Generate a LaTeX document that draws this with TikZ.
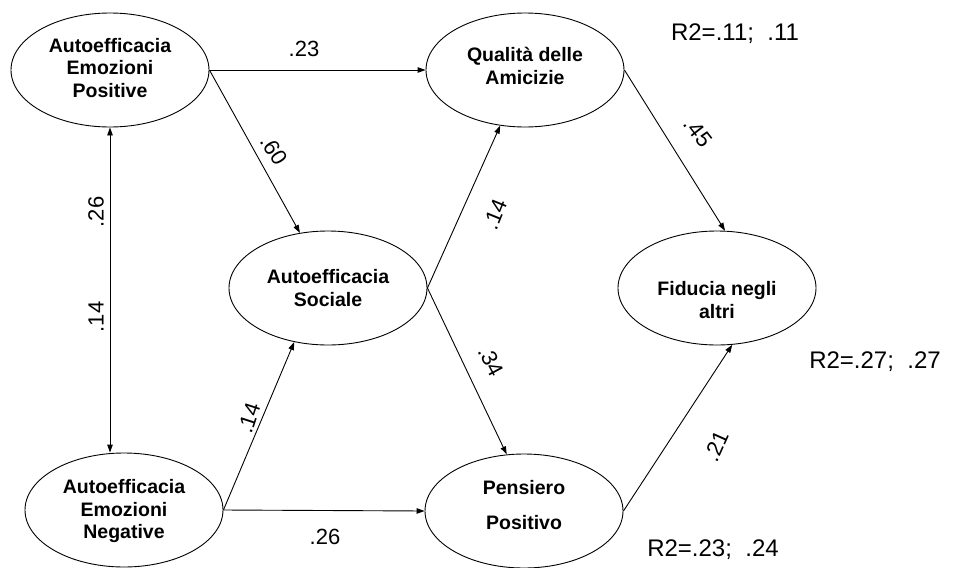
\documentclass[tikz,border=0pt]{standalone}
\usepackage{fontspec}
\setmainfont{Liberation Sans}
\usetikzlibrary{shapes.geometric,arrows.meta}
\begin{document}
\begin{tikzpicture}[x=1pt,y=-1pt,
  lat/.style={ellipse, draw, line width=0.9pt, minimum width=198pt, minimum height=114pt, inner sep=0pt},
  lattext/.style={align=center, inner sep=0pt, font=\fontsize{19.5}{22.5}\selectfont\bfseries},
  path/.style={line width=0.9pt, -{Triangle[length=8pt,width=5.5pt]}},
  coef/.style={font=\fontsize{22}{24}\selectfont, inner sep=0pt},
  rsq/.style={font=\fontsize{24}{26}\selectfont, inner sep=0pt}]
\useasboundingbox (0,0) rectangle (954,568);
% latent variables
\node[lat] (EP) at (110,70) {};
\node[lat] (Q)  at (525,70) {};
\node[lat] (S)  at (328,288) {};
\node[lat] (F)  at (717,288) {};
\node[lat] (EN) at (124,510) {};
\node[lat] (P)  at (524,511) {};
\node[lattext] (EPt) at (110,68) {Autoefficacia\\Emozioni\\Positive};
\node[lattext] (Qt)  at (525,66) {Qualità delle\\Amicizie};
\node[lattext] (St)  at (328,288) {Autoefficacia\\Sociale};
\node[lattext] (Ft)  at (717,300) {Fiducia negli\\altri};
\node[lattext] (ENt) at (124,511) {Autoefficacia\\Emozioni\\Negative};
\node[lattext] (Pt)  at (524,505) {Pensiero\\[12pt]Positivo};
% paths
\draw[path] (EP.east) -- (Q.west);
\draw[path] (EP.east) -- (S.117);
\draw[line width=0.9pt, {Triangle[length=8pt,width=5.5pt]}-{Triangle[length=8pt,width=5.5pt]}] (EP.south) -- (EP.south |- EN.north);
\draw[path] (EN.east) -- (S.238);
\draw[path] (EN.east) -- (P.west);
\draw[path] (S.east) -- (Q.246);
\draw[path] (S.east) -- (P.107);
\draw[path] (Q.east) -- (F.82);
\draw[path] (P.east) -- (F.285);
% coefficients
\node[coef] (c1) at (304,49) {.23};
\node[coef, rotate=-58] (c2) at (274,150) {.60};
\node[coef, rotate=90] (c3) at (96,212) {.26};
\node[coef, rotate=90] (c4) at (96,317) {.14};
\node[coef, rotate=72] (c5) at (249,418) {.14};
\node[coef] (c6) at (325,537) {.26};
\node[coef, rotate=68] (c7) at (495,214) {.14};
\node[coef, rotate=-62] (c8) at (491,361) {.34};
\node[coef, rotate=-52] (c9) at (698,132) {.45};
\node[coef, rotate=66] (c10) at (716,446) {.21};
% R2
\node[rsq] (r1) at (735,34) {R2=.11;\ \ .11};
\node[rsq] (r2) at (875,362) {R2=.27;\ \ .27};
\node[rsq] (r3) at (713,550) {R2=.23;\ \ .24};
\end{tikzpicture}
\end{document}
